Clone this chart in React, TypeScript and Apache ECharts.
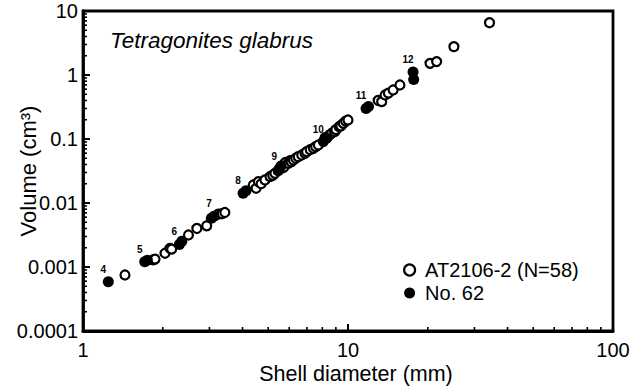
import React, { useEffect, useRef } from "react";
import * as echarts from "echarts";

// AT2106-2 (N=58): shell diameter (mm) and volume (cm3)
const openDiameter = [
  1.44, 1.84, 1.87, 2.04, 2.13, 2.16, 2.5, 2.69, 2.93, 3.24, 3.35, 3.43,
  4.39, 4.5, 4.59, 4.7, 4.86, 5.08, 5.2, 5.3, 5.45, 5.55, 5.62, 5.72, 5.81, 5.95,
  6.05, 6.1, 6.22, 6.35, 6.49, 6.69, 6.88, 6.98, 7.2, 7.4, 7.55, 7.73,
  8.2, 8.5, 8.68, 8.9, 9.0, 9.27, 9.4, 9.6, 9.8, 10.0,
  13.0, 13.4, 13.8, 14.2, 14.8, 15.7, 20.4, 21.6, 25.1, 34.2,
];
const openVolume = [
  0.00075, 0.00129, 0.00133, 0.00164, 0.00196, 0.0019, 0.00316, 0.004, 0.0044, 0.0067, 0.0068, 0.0071,
  0.0191, 0.017, 0.0215, 0.02, 0.0229, 0.0258, 0.027, 0.0291, 0.032, 0.034, 0.038, 0.036, 0.043, 0.0417,
  0.046, 0.044, 0.047, 0.05, 0.0529, 0.0562, 0.0597, 0.0634, 0.068, 0.0716, 0.076, 0.0806,
  0.105, 0.115, 0.123, 0.13, 0.14, 0.156, 0.16, 0.176, 0.19, 0.198,
  0.4, 0.383, 0.487, 0.52, 0.583, 0.698, 1.52, 1.62, 2.77, 6.56,
];

// No. 62 (growth stages labelled 4–12)
const no62Diameter = [1.246, 1.71, 1.75, 2.31, 2.36, 3.05, 3.12, 4.02, 4.12, 5.5, 5.58, 8.07, 8.31, 11.7, 11.95, 17.6, 17.7];
const no62Volume = [0.00059, 0.00121, 0.00127, 0.00225, 0.00252, 0.0058, 0.0062, 0.0142, 0.0155, 0.034, 0.0375, 0.091, 0.1025, 0.3, 0.322, 1.11, 0.85];
const no62Labels = ["4", "5", "", "6", "", "", "7", "8", "", "9", "", "10", "", "11", "", "12", ""];

const xTickLabels = ["1", "10", "100"];
const yTickLabels = ["0.0001", "0.001", "0.01", "0.1", "1", "10"];
const minorMultipliers = [2, 3, 4, 5, 6, 7, 8, 9];
const xDecades = [1, 10];
const yDecades = [0.0001, 0.001, 0.01, 0.1, 1];

const seriesNames = ["AT2106-2 (N=58)", "No. 62"];
const titleText = "Tetragonites glabrus";
const xName = "Shell diameter (mm)";
const yName = "Volume (cm³)";

const FONT = "'Liberation Sans', Arial, Helvetica, sans-serif";

export default function App() {
  const ref = useRef<HTMLDivElement>(null);

  useEffect(() => {
    if (!ref.current) return;
    const chart = echarts.init(ref.current, undefined, { renderer: "svg" });

    const minorData: number[][] = [];
    xDecades.forEach((d) => minorMultipliers.forEach((m) => minorData.push([m * d, 0.0001, 0])));
    yDecades.forEach((d) => minorMultipliers.forEach((m) => minorData.push([1, m * d, 1])));

    const openData = openDiameter.map((x, i) => [x, openVolume[i]]);
    const filledData = no62Diameter.map((x, i) => {
      const lab = no62Labels[i];
      return lab
        ? { value: [x, no62Volume[i]], label: { show: true, formatter: lab } }
        : { value: [x, no62Volume[i]] };
    });

    chart.setOption({
      animation: false,
      backgroundColor: "#fff",
      textStyle: { fontFamily: FONT, color: "#000" },
      grid: {
        left: 83,
        right: 27,
        top: 11,
        bottom: 56,
        outerBoundsMode: "none",
        containLabel: false,
        show: true,
        borderColor: "#000",
        borderWidth: 2.8,
        backgroundColor: "transparent",
      },
      graphic: [
        {
          type: "text",
          left: 110,
          top: 29,
          style: {
            text: titleText,
            font: `italic 22.5px ${FONT}`,
            fill: "#000",
          },
        },
      ],
      legend: {
        orient: "vertical",
        left: 398,
        top: 255,
        itemWidth: 11,
        itemHeight: 11,
        itemGap: 3,
        icon: "circle",
        textStyle: { fontSize: 20, fontFamily: FONT, color: "#000", padding: [0, 0, 0, 5] },
        data: [
          { name: seriesNames[0], itemStyle: { color: "#fff", borderColor: "#000", borderWidth: 2.2 } },
          { name: seriesNames[1], itemStyle: { color: "#000", borderWidth: 0 } },
        ],
      },
      xAxis: {
        type: "log",
        logBase: 10,
        min: 1,
        max: 100,
        name: xName,
        nameLocation: "middle",
        nameGap: 32,
        nameMoveOverlap: false,
        nameTextStyle: { fontSize: 21.5, fontFamily: FONT, color: "#000", padding: [0, 0, 0, 16] },
        axisLine: { show: true, lineStyle: { color: "#000", width: 2.8 } },
        axisTick: { show: true, inside: true, length: 7, lineStyle: { color: "#000", width: 2 } },
        axisLabel: {
          fontSize: 20,
          fontFamily: FONT,
          color: "#000",
          margin: 9,
          formatter: (v: number) => xTickLabels[Math.round(Math.log10(v))] ?? "",
        },
        splitLine: { show: false },
      },
      yAxis: {
        type: "log",
        logBase: 10,
        min: 0.0001,
        max: 10,
        name: yName,
        nameLocation: "middle",
        nameGap: 44,
        nameRotate: 90,
        nameMoveOverlap: false,
        nameTextStyle: { fontSize: 22, fontFamily: FONT, color: "#000" },
        axisLine: { show: true, lineStyle: { color: "#000", width: 2.8 } },
        axisTick: { show: true, inside: true, length: 7, lineStyle: { color: "#000", width: 2 } },
        axisLabel: {
          fontSize: 20,
          fontFamily: FONT,
          color: "#000",
          margin: 5,
          formatter: (v: number) => yTickLabels[Math.round(Math.log10(v)) + 4] ?? "",
        },
        splitLine: { show: false },
      },
      series: [
        {
          type: "custom",
          coordinateSystem: "cartesian2d",
          silent: true,
          clip: false,
          encode: { x: 0, y: 1 },
          data: minorData,
          z: 1,
          renderItem: (params: any, api: any) => {
            const p = api.coord([api.value(0), api.value(1)]);
            const kind = api.value(2);
            const len = 4;
            return kind === 0
              ? { type: "line", shape: { x1: p[0], y1: p[1], x2: p[0], y2: p[1] - len }, style: { stroke: "#000", lineWidth: 1.6 } }
              : { type: "line", shape: { x1: p[0], y1: p[1], x2: p[0] + len, y2: p[1] }, style: { stroke: "#000", lineWidth: 1.6 } };
          },
        },
        {
          name: seriesNames[0],
          type: "scatter",
          symbol: "circle",
          symbolSize: 9,
          itemStyle: { color: "#fff", borderColor: "#000", borderWidth: 2.2, opacity: 1 },
          data: openData,
          z: 3,
        },
        {
          name: seriesNames[1],
          type: "scatter",
          symbol: "circle",
          symbolSize: 11,
          itemStyle: { color: "#000", opacity: 1 },
          label: {
            show: false,
            position: "top",
            distance: 2,
            offset: [-5, 0],
            fontSize: 10,
            fontWeight: "bold",
            fontFamily: FONT,
            color: "#000",
          },
          data: filledData,
          z: 4,
        },
      ],
    });

    return () => chart.dispose();
  }, []);

  return (
    <div
      ref={ref}
      style={{ position: "absolute", left: 0, top: 0, width: 640, height: 387, background: "#fff" }}
    />
  );
}
